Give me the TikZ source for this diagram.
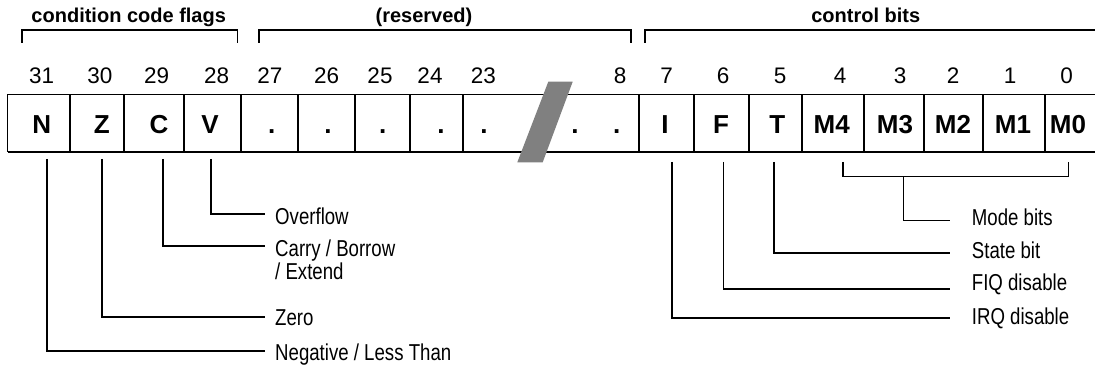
\documentclass[tikz,border=0pt]{standalone}
\usepackage{fontspec}
\setmainfont{Liberation Sans}
\newfontfamily\narrowfont[FakeStretch=0.81]{Liberation Sans}
\begin{document}
\begin{tikzpicture}[x=1pt,y=-1pt,
  cellchar/.style={font=\fontsize{26}{30}\selectfont\bfseries, anchor=base, inner sep=0pt},
  bitnum/.style={font=\fontsize{22.5}{25}\selectfont, anchor=base, inner sep=0pt},
  grouplbl/.style={font=\fontsize{20}{23}\selectfont\bfseries, anchor=base, inner sep=0pt},
  desc/.style={font=\narrowfont\fontsize{23}{20}\selectfont, anchor=base west, inner sep=0pt, align=left},
  wire/.style={line width=1.6pt},
  frame/.style={line width=1.8pt},
  slashfill/.style={fill=black!50}]
\useasboundingbox (0,0) rectangle (1095,366);

% group labels and brackets
\node[grouplbl] (gcc) at (128.7,22.5) {condition code flags};
\node[grouplbl] (gres) at (424,22.5) {(reserved)};
\node[grouplbl] (gctl) at (865.8,22.5) {control bits};
\draw[wire] (22,43) -- (22,30) -- (237.3,30) -- (237.3,43);
\draw[wire] (258.7,43) -- (258.7,30) -- (630.7,30) -- (630.7,43);
\draw[wire] (645,43) -- (645,30) -- (1095,30);

% bit numbers
\foreach \n/\x in {31/41.7,30/100,29/156.7,28/216.7,27/270,26/326.7,25/380,24/430,23/483.3,8/620,7/666.7,6/723,5/780,4/840,3/900,2/953,1/1010,0/1066.7}
  \node[bitnum] (b\n) at (\x,83.3) {\n};

% register frame
\draw[frame] (7.5,94.5) -- (1095,94.5);
\draw[frame] (7.5,151.7) -- (1095,151.7);
\foreach \x in {7.5,70,124.3,183.7,240.7,298.3,355,410,462.7,639.3,694,749,801.7,864,924,983.3,1045}
  \draw[frame] (\x,94.5) -- (\x,151.7);

% cell contents
\foreach \t/\x/\nm in {N/41.7/cN,Z/101.7/cZ,C/159/cC,V/210/cV,./271.7/d1,./328/d2,./382.7/d3,./441/d4,./484/d5,./575/d6,./616.7/d7,I/665/cI,F/721/cF,T/777.3/cT,M4/831.7/cM4,M3/895/cM3,M2/953/cM2,M1/1013/cM1,M0/1068/cM0}
  \node[cellchar] (\nm) at (\x,133.3) {\t};

% break mark
\fill[slashfill] (548.3,81.7) -- (572.7,81.7) -- (542.7,162.3) -- (517.3,162.3) -- cycle;

% descriptions
\node[desc] (lV) at (275,225) {Overflow};
\node[desc] (lC) at (275,279) {Carry / Borrow\\/ Extend};
\node[desc] (lZ) at (275,325) {Zero};
\node[desc] (lN) at (275,360) {Negative / Less Than};
\node[desc] (lM) at (971.7,225.7) {Mode bits};
\node[desc] (lT) at (971.7,258.3) {State bit};
\node[desc] (lF) at (971.7,290) {FIQ disable};
\node[desc] (lI) at (971.7,324) {IRQ disable};

% connector end points
\coordinate (tN) at (46.7,159);  \coordinate (eN) at (265,350.7);
\coordinate (tZ) at (101.7,159); \coordinate (eZ) at (265,316.7);
\coordinate (tC) at (162.7,159); \coordinate (eC) at (265,246);
\coordinate (tV) at (210.7,159); \coordinate (eV) at (265,214);
\coordinate (tI) at (671.7,162); \coordinate (eI) at (950,317.7);
\coordinate (tF) at (723.3,162); \coordinate (eF) at (950,289);
\coordinate (tT) at (774,162);   \coordinate (eT) at (950,252.7);
\coordinate (tM4) at (842.7,162); \coordinate (tM0) at (1068.3,162);
\coordinate (mbar) at (903.3,176.7); \coordinate (eM) at (950,220.7);

\draw[wire] (tN) |- (eN);
\draw[wire] (tZ) |- (eZ);
\draw[wire] (tC) |- (eC);
\draw[wire] (tV) |- (eV);
\draw[wire] (tI) |- (eI);
\draw[wire] (tF) |- (eF);
\draw[wire] (tT) |- (eT);
\draw[wire] (tM4) |- (mbar) -| (tM0);
\draw[wire] (mbar) |- (eM);
\end{tikzpicture}
\end{document}
